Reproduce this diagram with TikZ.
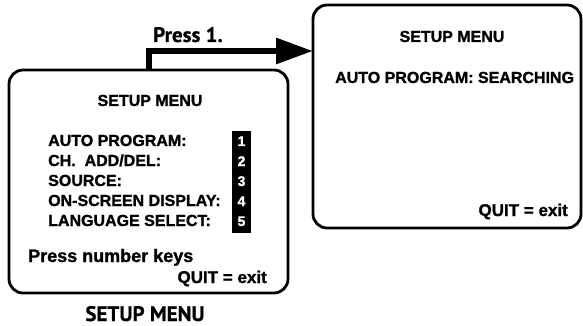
\documentclass[tikz,border=0pt]{standalone}
\usepackage{fontspec}
\setmainfont{Liberation Sans}[BoldFeatures={FakeBold=1.3}]
\newfontfamily\capfont{PT Sans}[BoldFeatures={FakeBold=0.6}]
\usetikzlibrary{arrows.meta}
\tikzstyle{screen} = [draw=black, line width=2.8pt, rounded corners=14pt, inner sep=0pt]
\tikzstyle{item} = [anchor=base west, inner sep=0pt, font={\bfseries\fontsize{16}{16}\selectfont}]
\tikzstyle{title} = [item, anchor=base]
\tikzstyle{quit} = [anchor=base east, inner sep=0pt, font={\bfseries\fontsize{17}{17}\selectfont}]
\tikzstyle{key} = [anchor=base, inner sep=0pt, text=white, font={\bfseries\fontsize{14}{14}\selectfont}]
\tikzstyle{caption} = [anchor=base, inner sep=0pt, font={\capfont\bfseries\fontsize{21}{21}\selectfont}]
\tikzstyle{press} = [line width=6pt, -{Triangle[length=37pt,width=25pt]}]

\begin{document}
\begin{tikzpicture}[x=1pt,y=-1pt]
    \useasboundingbox (0,0) rectangle (583,326);
    % screens
    \node[screen, minimum width=279pt, minimum height=223pt](menu) at (148.5,181.5){};
    \node[screen, minimum width=268pt, minimum height=223pt](search) at (447,116.5){};
    % left screen
    \node[title](mtitle) at (150,106){SETUP MENU};
    \node[item](auto) at (48,146){AUTO PROGRAM:};
    \node[item](chadd) at (48,166){CH.\ \ ADD/DEL:};
    \node[item](source) at (48,186){SOURCE:};
    \node[item](osd) at (48,206){ON-SCREEN DISPLAY:};
    \node[item](lang) at (48,226){LANGUAGE SELECT:};
    \node[fill=black, minimum width=19pt, minimum height=102pt, inner sep=0pt](keys) at (241.5,182){};
    \foreach \n in {1,...,5}
        \node[key](k\n) at (241.5,126+20*\n){\n};
    \node[item, font={\bfseries\fontsize{18}{18}\selectfont}](hint) at (28,262){Press number keys};
    \node[quit](mquit) at (267,283){QUIT = exit};
    \node[caption](cap) at (145,321){SETUP MENU};
    % right screen
    \node[title](stitle) at (452,42){SETUP MENU};
    \node[item](searching) at (335,83){AUTO PROGRAM: SEARCHING};
    \node[quit](squit) at (568,216){QUIT = exit};
    % arrow
    \node[caption, anchor=base west](press1) at (153,42){Press 1.};
    \coordinate (hit) at (313,51);
    \draw[press](menu.north) |- (hit);
\end{tikzpicture}
\end{document}
